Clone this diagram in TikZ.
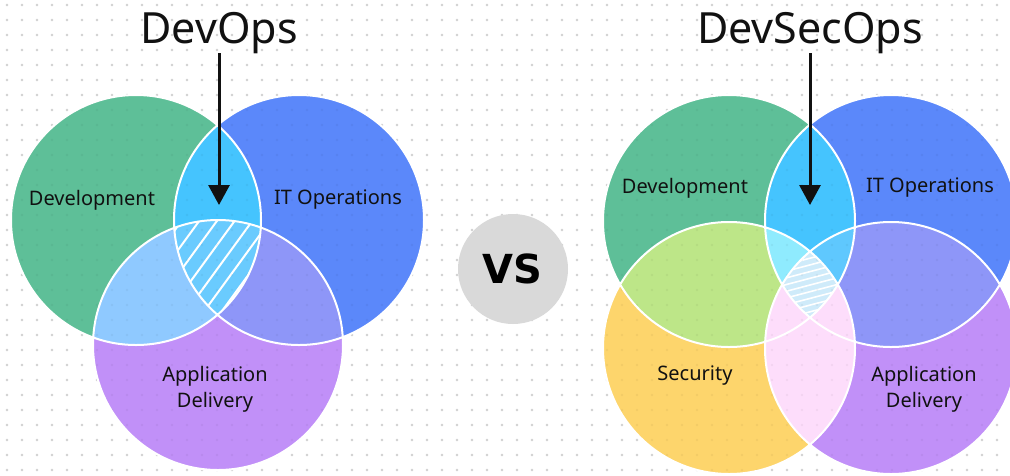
\documentclass[tikz,border=0pt]{standalone}
\usepackage{fontspec}
\setmainfont{Noto Sans}
\newfontfamily\vsfont{DejaVu Sans Bold}
\usetikzlibrary{arrows.meta}
\definecolor{ink}{HTML}{111111}
\definecolor{dotc}{HTML}{DADADA}
\definecolor{devc}{HTML}{5EBF98}
\definecolor{itc}{HTML}{5B88FA}
\definecolor{appc}{HTML}{C190F8}
\definecolor{secc}{HTML}{FDD56C}
\definecolor{devit}{HTML}{45C4FE}
\definecolor{devapp}{HTML}{8FC9FF}
\definecolor{itapp}{HTML}{8E96F8}
\definecolor{trio}{HTML}{6ACBFE}
\definecolor{devsec}{HTML}{BDE688}
\definecolor{secapp}{HTML}{FDDDFB}
\definecolor{dis}{HTML}{8FEBFE}
\definecolor{dia}{HTML}{5FC8FE}
\definecolor{quad}{HTML}{CFEBFA}
\definecolor{vsc}{HTML}{D9D9D9}
\begin{document}
\begin{tikzpicture}[x=1pt,y=-1pt,
  ring/.style={draw=white,line width=2pt},
  lbl/.style={font=\fontsize{20}{26}\selectfont,text=ink,align=center,inner sep=0pt},
  ttl/.style={font=\fontsize{43}{50}\selectfont,text=ink,inner sep=0pt,anchor=base},
  arr/.style={draw=ink,line width=3pt,-{Triangle[width=21pt,length=20pt]}}]
\useasboundingbox (0,0) rectangle (1010,475);
\fill[white] (0,0) rectangle (1010,475);
% background dots
\foreach \i in {0,...,67} \foreach \j in {0,...,31} \fill[dotc] (7+15*\i,5+15*\j) circle (1.3pt);
% ---------- left diagram ----------
\coordinate (LD) at (136,220);
\coordinate (LI) at (299,220);
\coordinate (LA) at (218,345);
\fill[devc] (LD) circle (125pt);
\fill[itc] (LI) circle (125pt);
\fill[appc] (LA) circle (125pt);
\begin{scope}\clip (LD) circle (125pt); \fill[devit] (LI) circle (125pt);\end{scope}
\begin{scope}\clip (LD) circle (125pt); \fill[devapp] (LA) circle (125pt);\end{scope}
\begin{scope}\clip (LI) circle (125pt); \fill[itapp] (LA) circle (125pt);\end{scope}
\begin{scope}
  \clip (LD) circle (125pt); \clip (LI) circle (125pt); \clip (LA) circle (125pt);
  \fill[trio] (LA) circle (125pt);
  \foreach \k in {-8,...,8}
    \draw[white,line width=2pt] ({218+\k*17.7-70},{268+96}) -- ({218+\k*17.7+70},{268-96});
\end{scope}
% ---------- right diagram ----------
\coordinate (RD) at (729,221);
\coordinate (RI) at (891,221);
\coordinate (RS) at (729,348);
\coordinate (RA) at (891,348);
\fill[devc] (RD) circle (126pt);
\fill[itc] (RI) circle (126pt);
\fill[secc] (RS) circle (126pt);
\fill[appc] (RA) circle (126pt);
\begin{scope}\clip (RD) circle (126pt); \fill[devit] (RI) circle (126pt);\end{scope}
\begin{scope}\clip (RD) circle (126pt); \fill[devsec] (RS) circle (126pt);\end{scope}
\begin{scope}\clip (RI) circle (126pt); \fill[itapp] (RA) circle (126pt);\end{scope}
\begin{scope}\clip (RS) circle (126pt); \fill[secapp] (RA) circle (126pt);\end{scope}
\begin{scope}\clip (RD) circle (126pt); \clip (RI) circle (126pt); \fill[dis] (RS) circle (126pt);\end{scope}
\begin{scope}\clip (RD) circle (126pt); \clip (RI) circle (126pt); \fill[dia] (RA) circle (126pt);\end{scope}
\begin{scope}
  \clip (RD) circle (126pt); \clip (RI) circle (126pt); \clip (RS) circle (126pt); \clip (RA) circle (126pt);
  \fill[quad] (RA) circle (126pt);
  \foreach \k in {-12,...,12}
    \draw[white,line width=1.6pt] (700,{285+\k*6.7+29}) -- (920,{285+\k*6.7-29});
\end{scope}
% faint dots over everything
\foreach \i in {0,...,67} \foreach \j in {0,...,31} \fill[black,opacity=0.045] (7+15*\i,5+15*\j) circle (1.3pt);
% outlines
\draw[ring] (LD) circle (125pt) (LI) circle (125pt) (LA) circle (125pt);
\draw[ring] (RD) circle (126pt) (RI) circle (126pt) (RS) circle (126pt) (RA) circle (126pt);
% VS
\fill[vsc] (513,269) circle (55pt);
\node[font=\vsfont\fontsize{40}{46}\selectfont,text=black,inner sep=0pt] (vs) at (512,269) {VS};
% labels
\node[lbl] (ld) at (92,200) {Development};
\node[lbl] (li) at (338,200) {IT Operations};
\node[lbl] (la) at (215,389) {Application\\Delivery};
\node[lbl] (rd) at (685,188) {Development};
\node[lbl] (ri) at (930,188) {IT Operations};
\node[lbl] (rs) at (695,376) {Security};
\node[lbl] (ra) at (924,389) {Application\\Delivery};
% titles and arrows
\node[ttl] (t1) at (219,43) {DevOps};
\node[ttl] (t2) at (810,43) {DevSecOps};
\coordinate (tip1) at (219,205);
\coordinate (tip2) at (810,205);
\coordinate (s1) at (219,53);
\coordinate (s2) at (810,53);
\draw[arr] (s1) -- (tip1);
\draw[arr] (s2) -- (tip2);
\end{tikzpicture}
\end{document}
